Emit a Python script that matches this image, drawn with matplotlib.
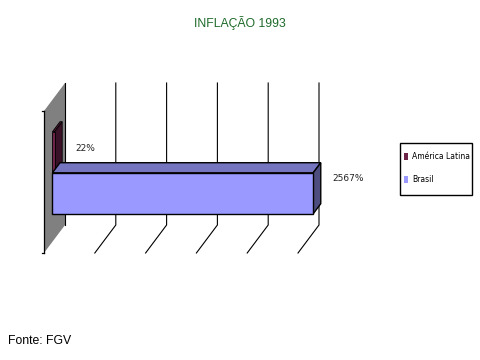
import matplotlib
matplotlib.use("Agg")
import matplotlib.pyplot as plt
from matplotlib.patches import Polygon, Patch, Rectangle

# data
series = ["América Latina", "Brasil"]
values = [22, 2567]
labels = ["22%", "2567%"]
front_colors = ["#6b2447", "#9999ff"]
top_colors = ["#4f1a35", "#7474bf"]
side_colors = ["#3a1227", "#4d4d80"]
title = "INFLAÇÃO 1993"
source = "Fonte: FGV"

XMAX = 2500
TICKS = [500, 1000, 1500, 2000, 2500]

# plot area geometry (back plane), y in pixel-like units (top=83, bottom=225)
Y_TOP, Y_BOT = 83, 225
PX_PER_UNIT = 254 / XMAX
DX = 21 / PX_PER_UNIT    # wall depth, x offset toward front (value units)
DY = 28                  # wall depth, y offset toward front
BAR_H = 41
FRONT, BACK = 0.60, 0.24  # depth fractions of bar faces
NARROW = ["Liberation Sans Narrow", "DejaVu Sans"]

fig = plt.figure(figsize=(4.8, 3.6), dpi=100)
ax = fig.add_axes([65 / 480, 1 - Y_BOT / 360, 254 / 480, (Y_BOT - Y_TOP) / 360])
ax.set_xlim(0, XMAX)
ax.set_ylim(Y_BOT, Y_TOP)
ax.axis("off")


def off(x, y, f):
    return (x - f * DX, y + f * DY)


# side wall
wall = Polygon([(0, Y_TOP), (0, Y_BOT), off(0, Y_BOT, 1), off(0, Y_TOP, 1)],
               closed=True, facecolor="#808080", edgecolor="none", clip_on=False, zorder=1)
ax.add_patch(wall)
ax.plot([0, 0], [Y_TOP, Y_BOT], color="black", lw=0.8, clip_on=False, zorder=2)
fx, fy_top = off(0, Y_TOP, 1)
_, fy_bot = off(0, Y_BOT, 1)
ax.plot([fx, fx], [fy_top, fy_bot], color="black", lw=0.9, clip_on=False, zorder=2)
for yy in (fy_top, fy_bot):
    ax.plot([fx - 2 / PX_PER_UNIT, fx], [yy, yy], color="black", lw=0.9, clip_on=False, zorder=2)

# gridlines
for t in TICKS:
    bx, by = off(t, Y_BOT, 1)
    ax.plot([t, t, bx], [Y_TOP, Y_BOT, by], color="black", lw=0.8, clip_on=False, zorder=2)

# bars
center = (Y_TOP + Y_BOT) / 2 + 2
n = len(values)
for i, v in enumerate(values):
    y0 = center - BAR_H * n / 2 + BAR_H * i
    y1 = y0 + BAR_H
    lw = 1.0 if v > 100 else 0.6
    # front face corners
    f00 = off(0, y0, FRONT); f10 = off(v, y0, FRONT)
    f11 = off(v, y1, FRONT); f01 = off(0, y1, FRONT)
    b00 = off(0, y0, BACK); b10 = off(v, y0, BACK); b11 = off(v, y1, BACK)
    kw = dict(closed=True, edgecolor="black", lw=lw, clip_on=False, zorder=3 + i)
    ax.add_patch(Polygon([f00, f10, b10, b00], facecolor=top_colors[i], **kw))
    ax.add_patch(Polygon([f10, f11, b11, b10], facecolor=side_colors[i], **kw))
    ax.add_patch(Polygon([f00, f10, f11, f01], facecolor=front_colors[i], **kw))

# value labels
label_dy = [13, 2]
label_dx = [180, 215]
for i, v in enumerate(values):
    y0 = center - BAR_H * n / 2 + BAR_H * i
    ax.text(v + label_dx[i], y0 + BAR_H / 2 + label_dy[i], labels[i], ha="center", va="center",
            fontsize=6.5, family=NARROW, color="#222222", clip_on=False, zorder=6)

fig.text(0.5, 1 - 23 / 360, title, ha="center", va="center", fontsize=8.8,
         color="#1e6a2a", family=["Liberation Sans", "DejaVu Sans"])
fig.text(8 / 480, 1 - 341 / 360, source, ha="left", va="center", fontsize=8.8,
         color="black", family=["Liberation Sans", "DejaVu Sans"])

# legend: entries from the library, frame drawn to the reference box
handles = [Patch(facecolor=c, edgecolor="none") for c in front_colors]
leg = fig.legend(handles, series, loc="center", bbox_to_anchor=(437 / 480, 1 - 168 / 360),
                 frameon=False, prop={"size": 5.5, "family": NARROW},
                 handlelength=0.55, handleheight=1.0, handletextpad=0.6,
                 labelspacing=1.9, borderpad=0.3, borderaxespad=0)
fig.patches.append(Rectangle((400 / 480, 1 - 195 / 360), 72 / 480, 52 / 360,
                             transform=fig.transFigure, fill=False,
                             edgecolor="black", lw=1.0))

fig.savefig("out.png", dpi=100)
